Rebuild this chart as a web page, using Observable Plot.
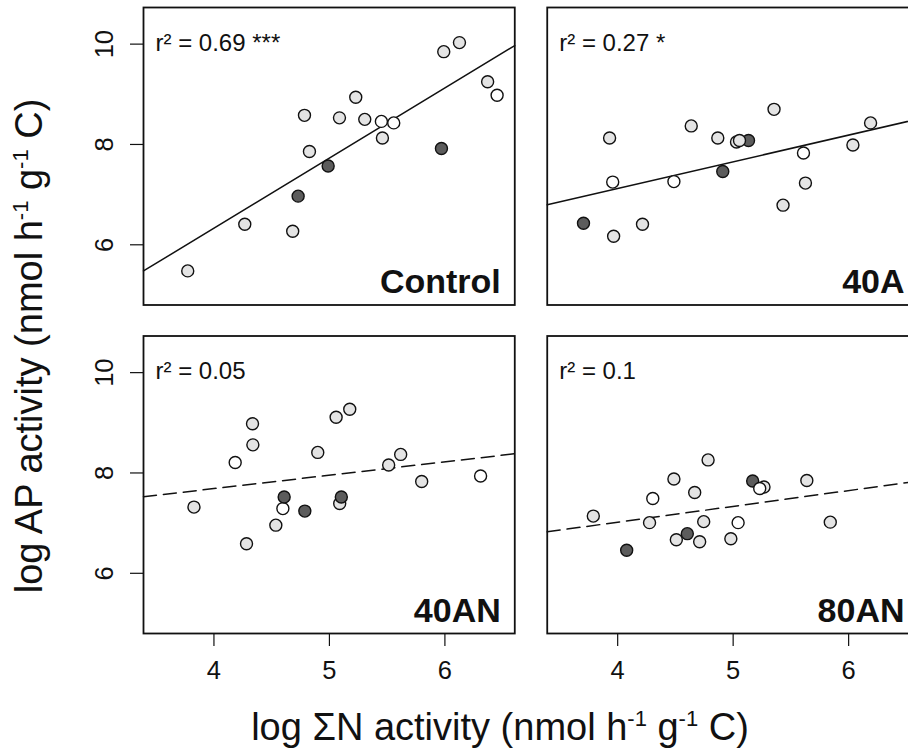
<!DOCTYPE html>
<html>
<head>
<meta charset="utf-8">
<script src="https://cdn.jsdelivr.net/npm/d3@7"></script>
<script src="https://cdn.jsdelivr.net/npm/@observablehq/plot@0.6"></script>
<style>
  html, body { margin: 0; padding: 0; background: #fff; overflow: hidden; }
  #chart { width: 908px; height: 750px; overflow: hidden; position: relative; }
</style>
</head>
<body>
<div id="chart"></div>
<script>
// ---------- data ----------
const panels = ["Control", "40A", "40AN", "80AN"];
const panelColumn = ["left", "right", "left", "right"];
const panelRow = ["top", "top", "bottom", "bottom"];
const r2Labels = ["r\u00B2 = 0.69 ***", "r\u00B2 = 0.27 *", "r\u00B2 = 0.05", "r\u00B2 = 0.1"];
const significant = [true, true, false, false];

const groups = ["grey", "dark", "white"];
const groupFills = ["#e4e4e4", "#5c5c5c", "#ffffff"];

const xTicks = [4, 5, 6];
const yTicks = [6, 8, 10];
const xDomain = [3.39, 6.605];
const yDomain = [4.8, 10.73];

// Control
const controlX = [3.773, 4.267, 4.682, 4.729, 4.784, 4.827, 4.989, 5.087, 5.228, 5.306, 5.450, 5.459, 5.557, 5.970, 5.990, 6.126, 6.370, 6.452];
const controlY = [5.48, 6.41, 6.27, 6.97, 8.58, 7.86, 7.57, 8.53, 8.94, 8.50, 8.46, 8.13, 8.43, 7.92, 9.85, 10.03, 9.25, 8.98];
const controlGroup = ["grey", "grey", "grey", "dark", "grey", "grey", "dark", "grey", "grey", "grey", "white", "grey", "white", "dark", "grey", "grey", "grey", "white"];

// 40A
const a40X = [3.704, 3.930, 3.957, 3.965, 4.215, 4.487, 4.637, 4.867, 4.910, 5.029, 5.133, 5.055, 5.354, 5.432, 5.609, 5.626, 6.037, 6.190];
const a40Y = [6.43, 8.13, 7.25, 6.17, 6.41, 7.26, 8.37, 8.13, 7.46, 8.05, 8.08, 8.08, 8.70, 6.79, 7.83, 7.23, 7.99, 8.43];
const a40Group = ["dark", "grey", "white", "grey", "grey", "white", "grey", "grey", "dark", "grey", "dark", "grey", "grey", "grey", "white", "grey", "grey", "grey"];

// 40AN
const an40X = [3.827, 4.184, 4.282, 4.334, 4.337, 4.536, 4.597, 4.608, 4.787, 4.899, 5.058, 5.089, 5.103, 5.176, 5.617, 5.513, 5.799, 6.309];
const an40Y = [7.32, 8.21, 6.59, 8.98, 8.56, 6.96, 7.29, 7.52, 7.24, 8.41, 9.11, 7.39, 7.52, 9.27, 8.37, 8.16, 7.83, 7.94];
const an40Group = ["grey", "white", "grey", "grey", "grey", "grey", "white", "dark", "dark", "grey", "grey", "grey", "dark", "grey", "grey", "grey", "grey", "white"];

// 80AN
const an80X = [3.789, 4.078, 4.276, 4.304, 4.487, 4.508, 4.603, 4.667, 4.710, 4.745, 4.783, 4.980, 5.043, 5.169, 5.267, 5.230, 5.638, 5.841];
const an80Y = [7.14, 6.46, 7.01, 7.49, 7.88, 6.67, 6.79, 7.61, 6.63, 7.03, 8.26, 6.69, 7.01, 7.84, 7.72, 7.69, 7.85, 7.02];
const an80Group = ["grey", "dark", "grey", "white", "grey", "grey", "dark", "grey", "grey", "grey", "grey", "grey", "white", "dark", "grey", "white", "grey", "grey"];

const seriesX = [controlX, a40X, an40X, an80X];
const seriesY = [controlY, a40Y, an40Y, an80Y];
const seriesGroup = [controlGroup, a40Group, an40Group, an80Group];

// ---------- tables built from the arrays ----------
const points = panels.flatMap((p, i) => seriesX[i].map((x, j) => ({
  panel: p, col: panelColumn[i], row: panelRow[i], x, y: seriesY[i][j], group: seriesGroup[i][j]
})));

function ols(xs, ys) {
  const mx = d3.mean(xs), my = d3.mean(ys);
  let sxy = 0, sxx = 0;
  xs.forEach((x, k) => { sxy += (x - mx) * (ys[k] - my); sxx += (x - mx) * (x - mx); });
  const slope = sxy / sxx;
  return { slope, intercept: my - slope * mx };
}

const fitLines = panels.flatMap((p, i) => {
  const { slope, intercept } = ols(seriesX[i], seriesY[i]);
  return xDomain.map(x => ({ panel: p, col: panelColumn[i], row: panelRow[i], x, y: intercept + slope * x, sig: significant[i] }));
});

const panelInfo = panels.map((p, i) => ({ panel: p, col: panelColumn[i], row: panelRow[i], r2: r2Labels[i] }));

// ---------- chart ----------
const chart = Plot.plot({
  width: 918,
  height: 750,
  marginLeft: 143,
  marginRight: 0,
  marginTop: 7,
  marginBottom: 117,
  style: {
    fontFamily: "'Liberation Sans', Arial, Helvetica, sans-serif",
    fontSize: "25px",
    color: "#111",
    background: "#fff",
    maxWidth: "none",
    overflow: "visible"
  },
  fx: { domain: ["left", "right"], axis: null, paddingInner: 0.0804, paddingOuter: 0, round: false },
  fy: { domain: ["top", "bottom"], axis: null, paddingInner: 0.0944, paddingOuter: 0, round: false },
  x: { domain: xDomain, label: null },
  y: { domain: yDomain, label: null },
  color: { domain: groups, range: groupFills },
  marks: [
    Plot.axisX({ ticks: xTicks, tickSize: 13, tickPadding: 14, fontSize: 25.5, tickFormat: d => String(d), facetAnchor: "bottom", label: null, strokeWidth: 1.2 }),
    Plot.axisY({ ticks: yTicks, tickSize: 13, tickPadding: 18, tickRotate: -90, fontSize: 25.5, tickFormat: d => String(d), facetAnchor: "left", label: null, strokeWidth: 1.2 }),
    Plot.line(fitLines.filter(d => d.sig), { x: "x", y: "y", z: "panel", fx: "col", fy: "row", stroke: "#111", strokeWidth: 1.5 }),
    Plot.line(fitLines.filter(d => !d.sig), { x: "x", y: "y", z: "panel", fx: "col", fy: "row", stroke: "#111", strokeWidth: 1.5, strokeDasharray: "13,7" }),
    Plot.dot(points, { x: "x", y: "y", fx: "col", fy: "row", r: 6, fill: "group", stroke: "#111", strokeWidth: 1.4 }),
    Plot.text(panelInfo, { fx: "col", fy: "row", text: "r2", frameAnchor: "top-left", textAnchor: "start", lineAnchor: "top", dx: 12, dy: 26, fontSize: 24, fill: "#111" }),
    Plot.text(panelInfo, { fx: "col", fy: "row", text: "panel", frameAnchor: "bottom-right", textAnchor: "end", lineAnchor: "bottom", dx: -14, dy: -12, fontSize: 34, fontWeight: "bold", fill: "#111" }),
    Plot.frame({ stroke: "#111", strokeWidth: 1.8 })
  ]
});

document.getElementById("chart").appendChild(chart);

// ---------- axis titles with superscripts ----------
const svg = d3.select(chart);
function addTitle(sel, parts) {
  let raised = false;
  parts.forEach(([txt, sup]) => {
    const t = sel.append("tspan").text(txt);
    if (sup) {
      t.attr("font-size", 22).attr("dy", -14);
      raised = true;
    } else if (raised) {
      t.attr("dy", 14);
      raised = false;
    }
  });
}
const xTitle = svg.append("text")
  .attr("x", 500).attr("y", 740)
  .attr("text-anchor", "middle")
  .attr("font-size", 38)
  .attr("fill", "#111");
addTitle(xTitle, [["log \u03A3N activity (nmol h"], ["-1", true], [" g"], ["-1", true], [" C)"]]);

const yTitle = svg.append("text")
  .attr("transform", "translate(42,346) rotate(-90)")
  .attr("text-anchor", "middle")
  .attr("font-size", 38)
  .attr("fill", "#111");
addTitle(yTitle, [["log AP activity (nmol h"], ["-1", true], [" g"], ["-1", true], [" C)"]]);
</script>
</body>
</html>
